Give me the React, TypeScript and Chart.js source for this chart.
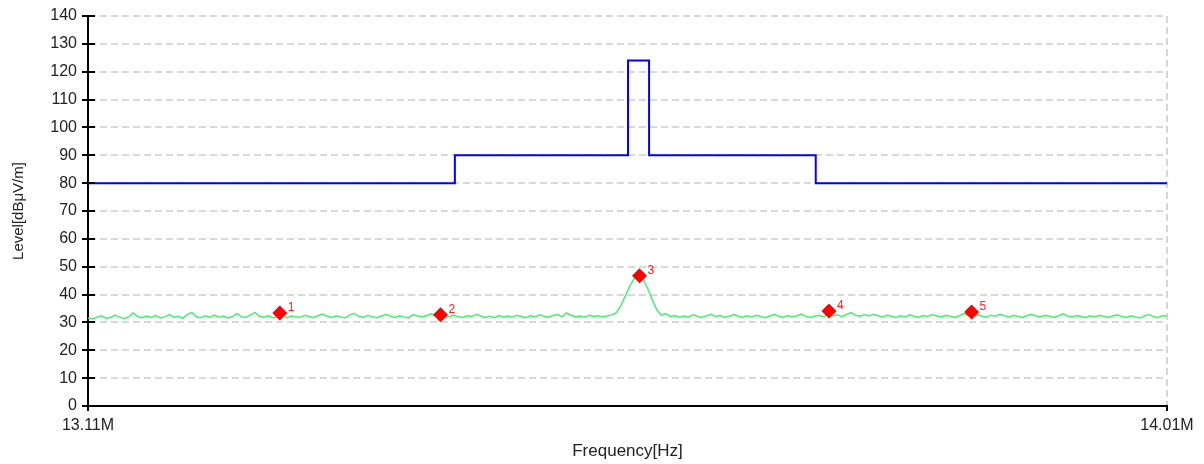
import React, { useEffect, useRef } from "react";
import { Chart, registerables } from "chart.js";

Chart.register(...registerables);

// Frequency axis (MHz)
const F_START = 13.11;
const F_END = 14.01;
const X_TICKS = [13.11, 14.01];

// Limit line breakpoints (MHz, dBµV/m), stepped
const limitFreqs = [13.11, 13.416, 13.5604, 13.578, 13.717, 14.01];
const limitLevels = [80, 90, 124, 90, 80, 80];

// Measured trace (dBµV/m), evenly swept from F_START to F_END
const traceLevels = [
  31.6, 31.2, 31.9, 32.4, 31.5, 31.8, 32.6, 31.9, 31.4, 32.0, 33.4, 32.1, 31.7, 32.3, 31.8, 32.5, 31.6, 32.0, 32.8, 31.9,
  32.2, 31.5, 32.9, 33.5, 32.0, 31.7, 32.4, 31.8, 32.6, 31.9, 32.3, 31.6, 32.1, 33.2, 32.0, 31.8, 32.7, 33.6, 32.2, 31.9,
  32.4, 31.7, 32.0, 32.8, 31.6, 32.3, 32.0, 31.8, 32.6, 32.1, 31.7, 32.5, 33.0, 32.2, 31.8, 32.4, 32.0, 31.6, 32.7, 33.3,
  32.1, 31.9, 32.6, 32.0, 31.7, 32.3, 32.9, 32.2, 31.8, 32.4, 32.0, 31.6, 32.8, 32.3, 32.0, 32.5, 33.1, 32.4, 31.9, 31.7,
  32.1, 32.6, 32.0, 31.8, 32.4, 32.1, 32.9, 32.3, 31.8, 32.2, 31.7, 32.5, 32.0, 32.3, 31.9, 32.6, 32.1, 31.7, 32.4, 32.0,
  32.7, 32.2, 31.9, 32.5, 32.8, 32.1, 33.4, 32.6, 32.0, 32.3, 31.9, 32.6, 32.1, 32.4, 32.0, 32.3, 32.7, 33.4, 36.0, 39.5,
  43.0, 45.8, 46.9, 45.5, 42.0, 38.0, 34.5, 32.6, 33.2, 32.1, 32.5, 31.9, 32.3, 32.0, 32.7, 32.2, 31.8, 32.4, 32.9, 32.1,
  32.5, 31.9, 32.2, 32.8, 32.3, 31.8, 32.4, 32.0, 32.6, 32.1, 31.7, 32.3, 32.9, 32.2, 31.9, 32.5, 32.0, 32.4, 33.0, 32.2,
  31.8, 32.3, 32.6, 32.0, 33.1, 32.4, 32.7, 32.1, 32.9, 33.5, 32.6, 32.2, 32.8, 32.3, 32.9, 32.4, 32.0, 32.6, 32.2, 31.8,
  32.4, 32.0, 32.7, 32.2, 31.9, 32.5, 32.1, 32.8, 32.3, 32.0, 32.6, 32.2, 31.8, 32.4, 33.2, 32.5, 32.1, 32.7, 32.3, 31.9,
  32.6, 32.2, 32.9, 32.4, 32.0, 32.6, 32.1, 31.8, 32.5, 32.9, 32.3, 32.0, 32.6, 32.2, 31.8, 32.4, 33.1, 32.3, 32.0, 32.5,
  32.1, 31.7, 32.4, 32.0, 32.6, 32.2, 31.8, 32.3, 32.7, 32.1, 31.8, 32.4, 32.0, 31.6, 32.3, 32.8, 32.1, 31.7, 32.5, 32.2,
];

// Markers
const markerLabels = ["1", "2", "3", "4", "5"];
const markerFreqs = [13.27, 13.404, 13.570, 13.728, 13.847];
const markerLevels = [33.4, 32.8, 46.8, 34.1, 33.7];

const FONT = "'Liberation Sans', Arial, sans-serif";

const markerLabelPlugin = {
  id: "markerLabels",
  afterDatasetsDraw(chart: any) {
    const meta = chart.getDatasetMeta(2);
    const ctx = chart.ctx;
    ctx.save();
    ctx.fillStyle = "#ff2020";
    ctx.font = `12px ${FONT}`;
    ctx.textAlign = "left";
    ctx.textBaseline = "middle";
    meta.data.forEach((pt: any, i: number) => {
      ctx.fillText(markerLabels[i], pt.x + 8, pt.y - 5);
    });
    ctx.restore();
  },
};

const innerTickPlugin = {
  id: "innerTicks",
  afterDraw(chart: any) {
    const y = chart.scales.y;
    const ctx = chart.ctx;
    const left = chart.chartArea.left;
    ctx.save();
    ctx.strokeStyle = "#000";
    ctx.lineWidth = 2;
    y.ticks.forEach((t: any) => {
      const py = Math.round(y.getPixelForValue(t.value));
      ctx.beginPath();
      ctx.moveTo(left, py);
      ctx.lineTo(left + 7, py);
      ctx.stroke();
    });
    ctx.restore();
  },
};

export default function App() {
  const ref = useRef<HTMLCanvasElement | null>(null);

  useEffect(() => {
    if (!ref.current) return;
    const n = traceLevels.length;
    const step = (F_END - F_START) / (n - 1);
    const traceData = traceLevels.map((v, i) => ({ x: F_START + i * step, y: v }));
    const limitData = limitFreqs.map((f, i) => ({ x: f, y: limitLevels[i] }));
    const markerData = markerFreqs.map((f, i) => ({ x: f, y: markerLevels[i] }));

    const chart = new Chart(ref.current, {
      type: "line",
      data: {
        datasets: [
          {
            label: "Limit",
            data: limitData,
            borderColor: "#0000ff",
            borderWidth: 2,
            stepped: "before",
            pointRadius: 0,
            fill: false,
            order: 1,
          },
          {
            label: "Trace",
            data: traceData,
            borderColor: "#45ef72",
            borderWidth: 1.5,
            pointRadius: 0,
            tension: 0,
            fill: false,
            order: 2,
          },
          {
            label: "Markers",
            data: markerData,
            showLine: false,
            pointStyle: "rectRot",
            pointRadius: 7.5,
            pointBackgroundColor: "#ff0000",
            pointBorderColor: "#ff0000",
            pointBorderWidth: 0,
            borderWidth: 0,
            order: 0,
          },
        ],
      },
      options: {
        animation: false,
        responsive: false,
        maintainAspectRatio: false,
        layout: { padding: { top: 16, right: 37, left: 0, bottom: 0 } },
        plugins: {
          legend: { display: false },
          tooltip: { enabled: false },
        },
        scales: {
          x: {
            type: "linear",
            min: F_START,
            max: F_END,
            afterBuildTicks: (scale: any) => {
              scale.ticks = X_TICKS.map((v) => ({ value: v }));
            },
            afterFit: (scale: any) => {
              scale.height = 58;
            },
            ticks: {
              autoSkip: false,
              maxRotation: 0,
              padding: 5,
              color: "#222",
              font: { family: FONT, size: 16 },
              callback: (v: any) => Number(v).toFixed(2) + "M",
            },
            grid: {
              color: (c: any) => (c.index === X_TICKS.length - 1 ? "#d6d6d6" : "rgba(0,0,0,0)"),
              lineWidth: 2,
              tickColor: "#000",
              tickLength: 5,
              tickWidth: 2,
            },
            border: { display: true, color: "#000", width: 2, dash: [7, 4] },
            title: {
              display: true,
              text: "Frequency[Hz]",
              color: "#222",
              font: { family: FONT, size: 17 },
              padding: { top: 0, bottom: 2 },
            },
          },
          y: {
            min: 0,
            max: 140,
            afterFit: (scale: any) => {
              scale.width = 88;
            },
            ticks: {
              stepSize: 10,
              padding: 5,
              color: "#222",
              font: { family: FONT, size: 16 },
            },
            grid: {
              color: "#d9d9d9",
              lineWidth: 2,
              tickColor: "#000",
              tickLength: 6,
              tickWidth: 2,
            },
            border: { display: true, color: "#000", width: 2, dash: [7, 4] },
            title: {
              display: true,
              text: "Level[dBμV/m]",
              color: "#222",
              font: { family: FONT, size: 15 },
              padding: { top: 10, bottom: 0 },
            },
          },
        },
      },
      plugins: [markerLabelPlugin, innerTickPlugin],
    });
    return () => chart.destroy();
  }, []);

  return (
    <div style={{ position: "fixed", left: 0, top: 0, width: 1204, height: 464, background: "#fff" }}>
      <canvas ref={ref} width={1204} height={464} style={{ width: 1204, height: 464, display: "block" }} />
    </div>
  );
}
